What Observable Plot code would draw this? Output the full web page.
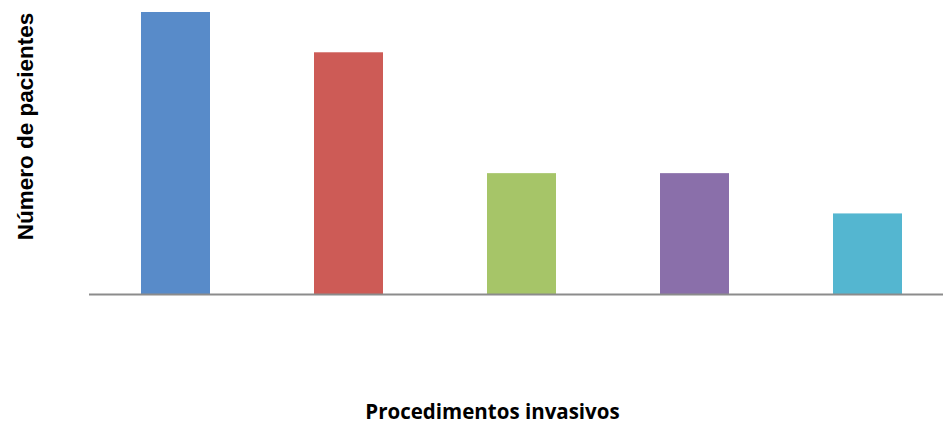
<!DOCTYPE html>
<html>
<head>
<meta charset="utf-8">
<script src="https://cdn.jsdelivr.net/npm/d3@7"></script>
<script src="https://cdn.jsdelivr.net/npm/@observablehq/plot@0.6"></script>
<style>
  html, body { margin: 0; padding: 0; background: #fff; }
</style>
</head>
<body>
<div id="chart"></div>
<script>
const categories = ["Procedimento 1", "Procedimento 2", "Procedimento 3", "Procedimento 4", "Procedimento 5"];
const values = [7, 6, 3, 3, 2];
const colors = ["#588BC9", "#CD5B56", "#A6C568", "#8A6FAA", "#54B6D0"];
const xTitle = "Procedimentos invasivos";
const yTitle = "Número de pacientes";

const data = categories.map((c, i) => ({category: c, value: values[i]}));

const chart = Plot.plot({
  width: 943,
  height: 423,
  marginLeft: 89,
  marginRight: 0,
  marginTop: 12,
  marginBottom: 129,
  style: {background: "#fff"},
  x: {domain: categories, range: [89, 954], paddingInner: 0.6, paddingOuter: 0.3, align: 0.5, axis: null},
  y: {domain: [0, 7], axis: null},
  color: {domain: categories, range: colors},
  marks: [
    Plot.barY(data, {x: "category", y: "value", fill: "category"}),
    Plot.ruleY([0], {stroke: "#8c8c8c", strokeWidth: 2}),
    Plot.text([xTitle], {frameAnchor: "bottom", textAnchor: "middle", lineAnchor: "bottom", dx: -24, dy: 124, text: d => d, fontSize: 20.5, fontWeight: "bold", fontFamily: "Open Sans", fill: "#000"}),
    Plot.text([yTitle], {frameAnchor: "left", textAnchor: "middle", lineAnchor: "middle", rotate: -90, dx: -64, dy: -27, text: d => d, fontSize: 22.5, fontWeight: "bold", fontFamily: "Liberation Sans", fill: "#000"})
  ]
});
document.getElementById("chart").appendChild(chart);
</script>
</body>
</html>
